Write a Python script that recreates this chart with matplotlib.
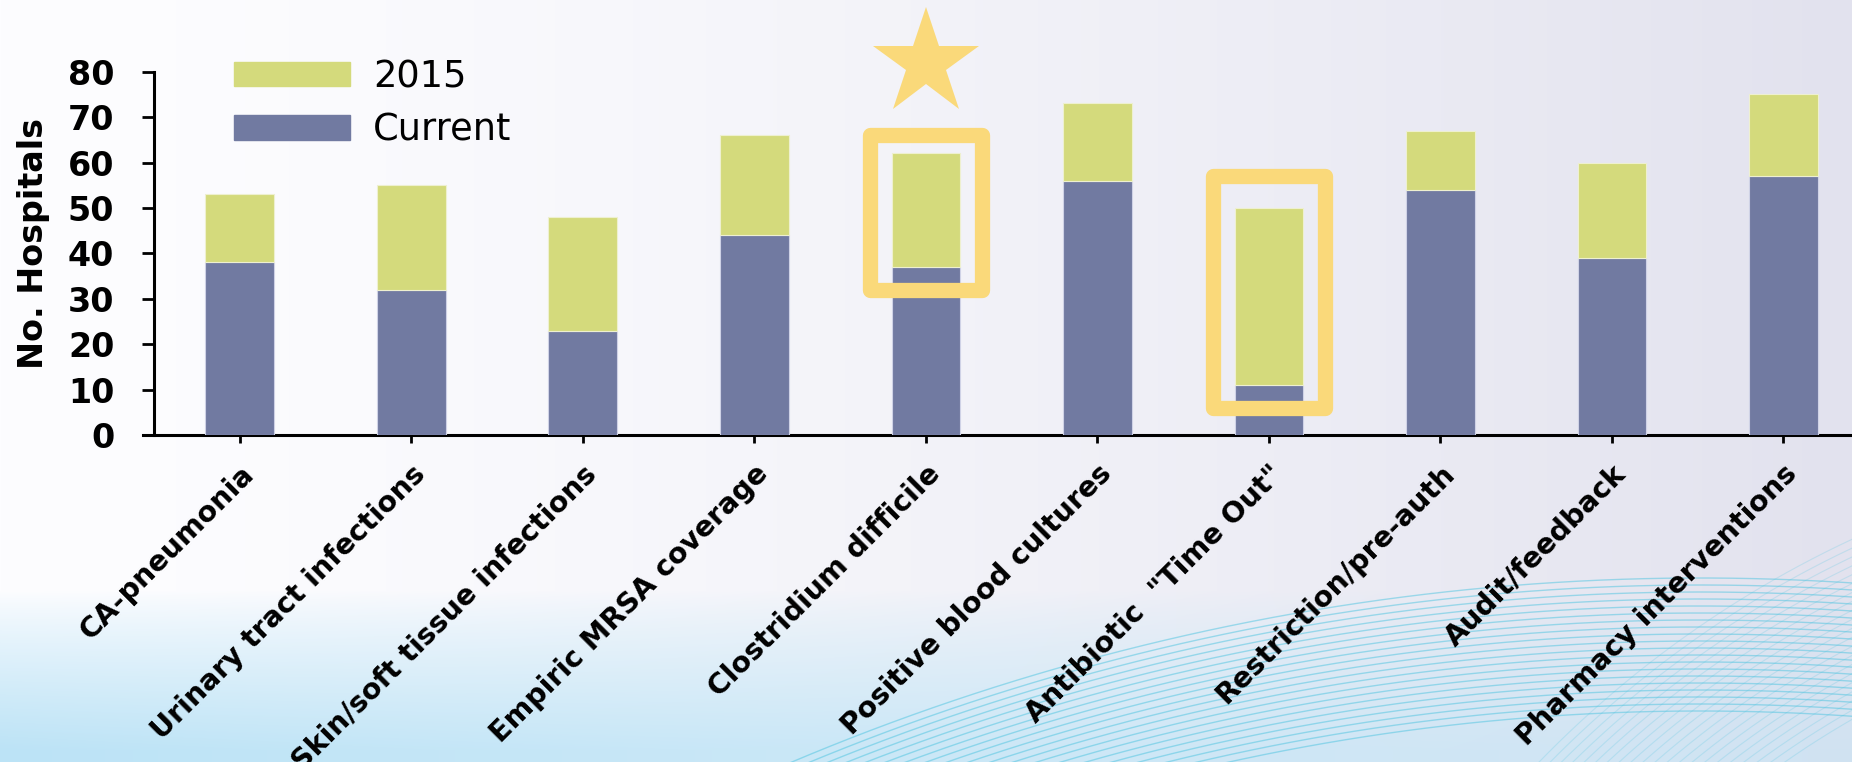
import numpy as np
import matplotlib.pyplot as plt
from matplotlib.patches import Patch, Rectangle
from matplotlib.transforms import ScaledTranslation

# data
categories = ['CA-pneumonia', 'Urinary tract infections', 'Skin/soft tissue infections',
              'Empiric MRSA coverage', 'Clostridium difficile', 'Positive blood cultures',
              'Antibiotic  "Time Out"', 'Restriction/pre-auth', 'Audit/feedback',
              'Pharmacy interventions']
current = [38, 32, 23, 44, 37, 56, 11, 54, 39, 57]
by_2015 = [15, 23, 25, 22, 25, 17, 39, 13, 21, 18]
yticks = [0, 10, 20, 30, 40, 50, 60, 70, 80]

# annotations: yellow boxes around two bars, star over the first
boxed = [4, 6]
box_gap_below = [5, 5]
box_gap_above = [4, 7]
star_at = 4

BLUE = '#717aa1'
GREEN = '#d4da7c'
YELLOW = '#fad97a'

W, H = 1852, 762
fig = plt.figure(figsize=(W / 100, H / 100), dpi=100)

# slide background: white -> lavender, light blue at the bottom, cyan arcs
bg = fig.add_axes([0, 0, 1, 1], zorder=-10)
xx = np.linspace(0, 1, W)[None, :, None]
yy = np.arange(H)[:, None, None]
left = np.array([253, 253, 255]) / 255
right = np.array([226, 226, 238]) / 255
img = left * (1 - xx ** 1.4) + right * xx ** 1.4
blue = np.array([188, 227, 246]) / 255
wb = np.clip((yy - 590) / 160, 0, 1) ** 0.85 * (1 - 0.55 * xx)
img = img * (1 - wb) + blue * wb
bg.imshow(img, extent=(0, W, H, 0), aspect='auto')
t = np.linspace(0, 2 * np.pi, 4000)
for r in np.arange(2200, 2335, 7):
    bg.plot(1700 + r * np.cos(t), 2911 + r * np.sin(t), color='#4cc4e0', lw=1.0, alpha=0.5)
for r in np.arange(900, 1065, 8):
    bg.plot(2300 + r * np.cos(t), 1500 + r * np.sin(t), color='#4cc4e0', lw=0.8, alpha=0.22)
bg.set_xlim(0, W)
bg.set_ylim(H, 0)
bg.axis('off')

ax = fig.add_axes([154 / W, (H - 435) / H, (W - 154) / W, 363.3 / H])
ax.set_facecolor('none')
x = np.arange(len(categories))
ax.bar(x, current, width=0.4, color=BLUE, edgecolor='#cfd2e6', linewidth=0.8, zorder=3)
ax.bar(x, by_2015, width=0.4, bottom=current, color=GREEN, edgecolor='#eef0d0',
       linewidth=0.8, zorder=3)

for i, gb, ga in zip(boxed, box_gap_below, box_gap_above):
    lo = current[i] - gb
    hi = current[i] + by_2015[i] + ga
    ax.add_patch(Rectangle((i - 0.326, lo), 0.652, hi - lo, fill=False, edgecolor=YELLOW,
                           lw=11, joinstyle='round', clip_on=False, zorder=4))
ax.plot([star_at], [82], marker='*', ms=81, color=YELLOW, mew=0, clip_on=False, zorder=4)

ax.set_xlim(-0.5, 9.4)
ax.set_ylim(0, 80)
ax.set_yticks(yticks)
ax.set_yticklabels([str(v) for v in yticks], fontsize=24, fontweight='bold')
ax.set_xticks(x)
ax.set_xticklabels(categories, rotation=45, ha='right', va='top', rotation_mode='anchor',
                   fontsize=20.5, fontweight='bold')
shift = ScaledTranslation(9 / 100, 0, fig.dpi_scale_trans)
for lab in ax.get_xticklabels():
    lab.set_transform(lab.get_transform() + shift)

ax.tick_params(axis='y', length=8.6, width=2, pad=20, colors='black')
ax.tick_params(axis='x', length=5.8, width=2, pad=12)
for s in ['top', 'right']:
    ax.spines[s].set_visible(False)
ax.spines['left'].set_linewidth(2.2)
ax.spines['bottom'].set_linewidth(2.2)
ax.spines['bottom'].set_bounds(-0.567, 9.4)

ax.set_ylabel('No. Hospitals', fontsize=24, fontweight='bold')
ax.yaxis.set_label_coords(-0.0612, 0.526)

handles = [Patch(color=GREEN, label='2015'), Patch(color=BLUE, label='Current')]
ax.legend(handles=handles, loc='upper left', bbox_to_anchor=(234 / W, 1 - 58 / H),
          bbox_transform=fig.transFigure, frameon=False, fontsize=26.5, borderpad=0,
          borderaxespad=0, handlelength=3.15, handleheight=0.65, handletextpad=0.62,
          labelspacing=0.45)

fig.savefig('out.png', dpi=100)
